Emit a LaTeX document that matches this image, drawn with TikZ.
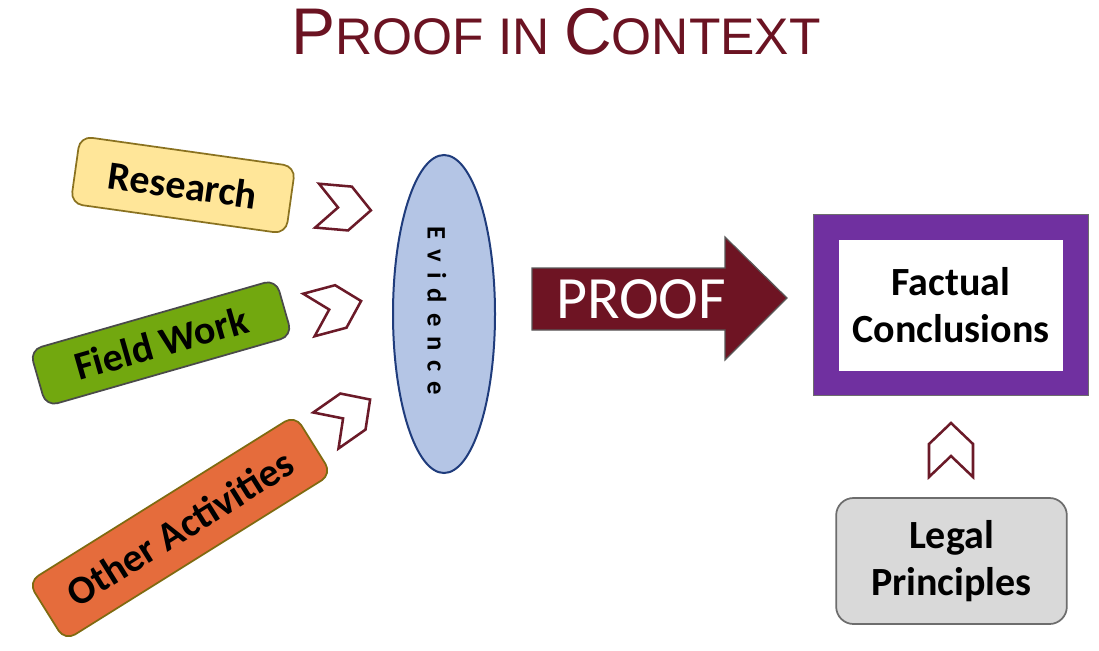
\documentclass[tikz,border=0pt]{standalone}
\usepackage{fontspec}
\setmainfont{Carlito}
\newfontfamily\titlefont{Liberation Sans}
\usetikzlibrary{shapes.geometric,calc}
\definecolor{maroon}{HTML}{6E1423}
\definecolor{titlecol}{HTML}{6B1322}
\definecolor{chevcol}{HTML}{6B1A28}
\definecolor{resfill}{HTML}{FFE699}
\definecolor{resdraw}{HTML}{8A7220}
\definecolor{fwfill}{HTML}{72A80F}
\definecolor{fwdraw}{HTML}{4A4A4A}
\definecolor{oafill}{HTML}{E56C3C}
\definecolor{oadraw}{HTML}{7F6A10}
\definecolor{evfill}{HTML}{B4C5E5}
\definecolor{evdraw}{HTML}{1F3C7C}
\definecolor{purp}{HTML}{7030A0}
\definecolor{lpfill}{HTML}{D9D9D9}
\definecolor{lpdraw}{HTML}{6D6D6D}
\newcommand\evsp{\kern7.5pt}
\tikzset{
  actbox/.style={rectangle, rounded corners=9pt, line width=1.3pt, inner sep=0pt,
    font=\fontsize{30}{36}\selectfont\bfseries, text=black},
  chevline/.style={draw=chevcol, fill=white, line width=1.9pt, line join=miter},
  chev/.pic={\draw[chevline] (-27,-22) -- (6,-22) -- (27,0) -- (6,22) -- (-27,22) -- (-6,0) -- cycle;},
  bigtxt/.style={font=\fontsize{30}{35}\selectfont\bfseries, align=center, text=black}
}
\begin{document}
\begin{tikzpicture}[x=0.75pt,y=-0.75pt]
\useasboundingbox[fill=white] (0,0) rectangle (1099,650);

% title
\node[anchor=base, text=titlecol, font=\titlefont, inner sep=0pt] (title) at (556,54)
  {\fontsize{49.5}{52}\selectfont P\fontsize{38.6}{42}\selectfont ROOF IN \fontsize{49.5}{52}\selectfont C\fontsize{38.6}{42}\selectfont ONTEXT};

% activity boxes
\node[actbox, fill=resfill, draw=resdraw, minimum width=163pt, minimum height=51pt, rotate=-8] (res) at (183,185) {Research};
\node[actbox, fill=fwfill, draw=fwdraw, minimum width=192pt, minimum height=44pt, rotate=16] (fw) at (161,343) {Field Work};
\node[actbox, fill=oafill, draw=oadraw, minimum width=236pt, minimum height=52pt, rotate=32] (oa) at (180,528) {Other Activities};

% chevrons
\pic[rotate=-5] (c1) at (344,208) {chev};
\pic[rotate=15] (c2) at (335,308) {chev};
\pic[rotate=35] (c3) at (348,415) {chev};

% evidence
\node[ellipse, fill=evfill, draw=evdraw, line width=1.5pt, minimum width=76.5pt, minimum height=238.5pt, inner sep=0pt] (ev) at (444,314) {};
\node[rotate=-90, font=\fontsize{20}{24}\selectfont\bfseries, inner sep=0pt] (evlabel) at (437,311)
  {E\evsp v\evsp i\evsp d\evsp e\evsp n\evsp c\evsp e};

% proof arrow
\draw[fill=maroon, draw=gray!70!black, line width=0.9pt, line join=miter]
  (532,268) -- (725,268) -- (725,237) -- (787,298) -- (725,360) -- (725,330) -- (532,330) -- cycle;
\node[text=white, font=\fontsize{45}{50}\selectfont, inner sep=0pt] (proof) at (641,299) {PROOF};

% factual conclusions
\node[rectangle, fill=white, draw=purp, line width=18.75pt, minimum width=187pt, minimum height=117pt, inner sep=0pt] (fc) at (951,305) {};
\draw[lpdraw, line width=0.8pt] (fc.south west) rectangle (fc.north east);
\node[bigtxt] (fctext) at (fc.center) {Factual\\Conclusions};

% up chevron
\pic[rotate=90] (c4) at (951,450) {chev};

% legal principles
\node[rectangle, rounded corners=13pt, fill=lpfill, draw=lpdraw, line width=1.3pt, minimum width=173pt, minimum height=94.5pt, inner sep=0pt, bigtxt] (lp) at (951.5,561) {Legal\\Principles};
\end{tikzpicture}
\end{document}
